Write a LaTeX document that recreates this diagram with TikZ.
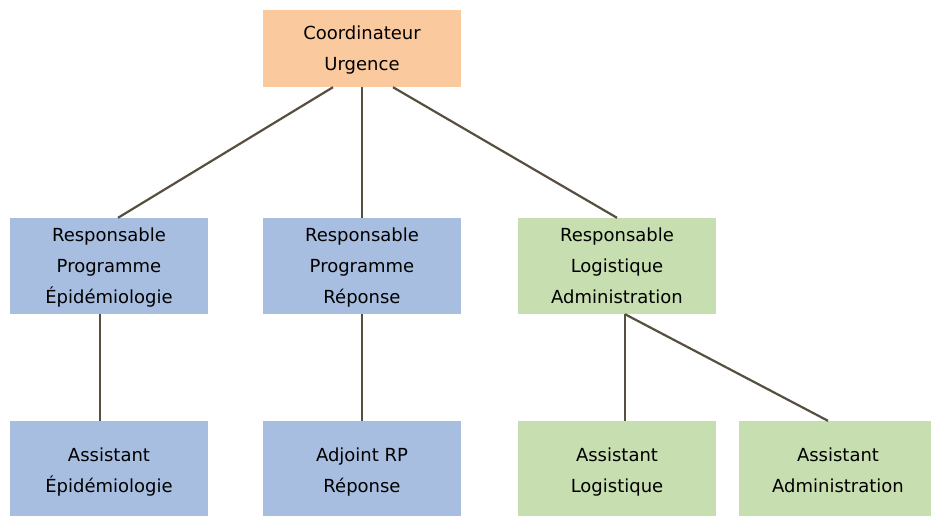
\documentclass[tikz,border=0pt]{standalone}
\usepackage{fontspec}
\setmainfont{DejaVu Sans}
\definecolor{orangebox}{HTML}{FAC99E}
\definecolor{bluebox}{HTML}{A7BEE0}
\definecolor{greenbox}{HTML}{C7DEB0}
\definecolor{linkcol}{HTML}{574F40}
\begin{document}
\begin{tikzpicture}[x=1pt,y=-1pt,
  box/.style={minimum width=198pt,minimum height=96pt,inner sep=0pt,align=center,
    font=\fontsize{18}{31}\selectfont,text=black},
  link/.style={draw=linkcol,line width=2.2pt}]
\useasboundingbox (0,0) rectangle (931,515);
\clip (0,0) rectangle (931,515);
\node[box,fill=orangebox,minimum height=77pt] (coord) at (362,48.5) {\strut Coordinateur\\\strut Urgence};
\node[box,fill=bluebox] (rpe) at (109,266) {\strut Responsable\\\strut Programme\\\strut Épidémiologie};
\node[box,fill=bluebox] (rpr) at (362,266) {\strut Responsable\\\strut Programme\\\strut Réponse};
\node[box,fill=greenbox] (rla) at (617,266) {\strut Responsable\\\strut Logistique\\\strut Administration};
\node[box,fill=bluebox,minimum height=100pt] (ae) at (109,471) {\strut Assistant\\\strut Épidémiologie};
\node[box,fill=bluebox,minimum height=100pt] (arp) at (362,471) {\strut Adjoint RP\\\strut Réponse};
\node[box,fill=greenbox,minimum height=100pt] (al) at (617,471) {\strut Assistant\\\strut Logistique};
\node[box,fill=greenbox,minimum height=100pt] (aa) at (838,471) {\strut Assistant\\\strut Administration};
\draw[link] ([xshift=-29pt]coord.south) -- ([xshift=9pt]rpe.north);
\draw[link] (coord.south) -- (rpr.north);
\draw[link] ([xshift=31pt]coord.south) -- (rla.north);
\draw[link] ([xshift=-9pt]rpe.south) -- ([xshift=-9pt]ae.north);
\draw[link] (rpr.south) -- (arp.north);
\draw[link] ([xshift=8pt]rla.south) -- ([xshift=8pt]al.north);
\draw[link] ([xshift=8pt]rla.south) -- ([xshift=-10pt]aa.north);
\end{tikzpicture}
\end{document}
